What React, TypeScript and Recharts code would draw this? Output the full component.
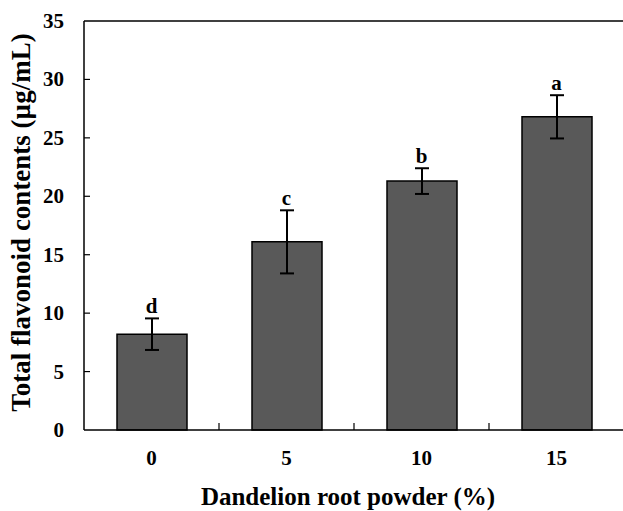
import React from 'react';
import {
  ComposedChart,
  Bar,
  Line,
  XAxis,
  YAxis,
  ErrorBar,
  LabelList,
  ReferenceLine,
  Label,
} from 'recharts';

const categories = ['0', '5', '10', '15'];
const flavonoid = [8.2, 16.1, 21.3, 26.8];
const errors = [1.35, 2.7, 1.1, 1.85];
const letters = ['d', 'c', 'b', 'a'];
const yTicks = [0, 5, 10, 15, 20, 25, 30, 35];

const data = categories.map((c, i) => ({
  dose: c,
  value: flavonoid[i],
  err: errors[i],
  top: flavonoid[i] + errors[i],
  letter: letters[i],
}));

const FONT = '"Liberation Serif", "Times New Roman", serif';
const CHART_W = 630;
const MARGIN = { top: 21, right: 6, bottom: 0, left: 0 };
const Y_WIDTH = 84;
const X_HEIGHT = 81;
const X_TICK_GAP = 28;
const BAND = (CHART_W - MARGIN.left - Y_WIDTH - MARGIN.right) / categories.length;

const XTick = (props: any) => {
  const { x, y, payload, index } = props;
  const axisY = y - X_TICK_GAP;
  return (
    <g>
      <text
        x={x}
        y={y}
        textAnchor="middle"
        dominantBaseline="central"
        fontFamily={FONT}
        fontWeight="bold"
        fontSize={21}
        fill="#000"
      >
        {payload.value}
      </text>
      {index < categories.length - 1 && (
        <line x1={x + BAND / 2} x2={x + BAND / 2} y1={axisY} y2={axisY - 7} stroke="#000" strokeWidth={1.2} />
      )}
    </g>
  );
};

const YTick = (props: any) => {
  const { x, y, payload } = props;
  const axisX = x + 20;
  return (
    <g>
      <text
        x={x}
        y={y}
        textAnchor="end"
        dominantBaseline="central"
        fontFamily={FONT}
        fontWeight="bold"
        fontSize={21}
        fill="#000"
      >
        {payload.value}
      </text>
      {payload.value !== 0 && payload.value !== 35 && (
        <line x1={axisX} x2={axisX + 6} y1={y} y2={y} stroke="#000" strokeWidth={1.2} />
      )}
    </g>
  );
};

const YTitle = (props: any) => {
  const { viewBox } = props;
  const cy = viewBox.y + viewBox.height / 2 - 3;
  return (
    <text
      x={21}
      y={cy}
      transform={`rotate(-90 21 ${cy})`}
      textAnchor="middle"
      dominantBaseline="central"
      fontFamily={FONT}
      fontWeight="bold"
      fontSize={27}
      fill="#000"
    >
      Total flavonoid contents (µg/mL)
    </text>
  );
};

const XTitle = (props: any) => {
  const { viewBox } = props;
  const cx = viewBox.x + viewBox.width / 2 - 6;
  return (
    <text
      x={cx}
      y={496}
      textAnchor="middle"
      dominantBaseline="central"
      fontFamily={FONT}
      fontWeight="bold"
      fontSize={25}
      fill="#000"
    >
      Dandelion root powder (%)
    </text>
  );
};

export default function App() {
  return (
    <div style={{ position: 'absolute', left: 0, top: 0, width: 623, height: 511, overflow: 'hidden', background: '#fff' }}>
      <ComposedChart width={CHART_W} height={511} data={data} margin={MARGIN}>
        <XAxis
          dataKey="dose"
          height={X_HEIGHT}
          stroke="#000"
          strokeWidth={1.5}
          tickLine={false}
          tickSize={0}
          tickMargin={X_TICK_GAP}
          tick={<XTick />}
          interval={0}
        >
          <Label content={<XTitle />} />
        </XAxis>
        <YAxis
          domain={[0, 35]}
          ticks={yTicks}
          width={Y_WIDTH}
          stroke="#000"
          strokeWidth={1.5}
          tickLine={false}
          tickSize={0}
          tickMargin={20}
          tick={<YTick />}
          interval={0}
        >
          <Label content={<YTitle />} />
        </YAxis>
        <ReferenceLine y={35} stroke="#000" strokeWidth={1.5} />
        <Bar dataKey="value" fill="#595959" stroke="#000" strokeWidth={1.5} barSize={70} isAnimationActive={false}>
          <ErrorBar dataKey="err" width={7} stroke="#000" strokeWidth={2} />
        </Bar>
        <Line dataKey="top" stroke="none" dot={false} activeDot={false} isAnimationActive={false}>
          <LabelList
            dataKey="letter"
            position="top"
            offset={5}
            fontFamily={FONT}
            fontWeight="bold"
            fontSize={21}
            fill="#000"
          />
        </Line>
      </ComposedChart>
    </div>
  );
}
